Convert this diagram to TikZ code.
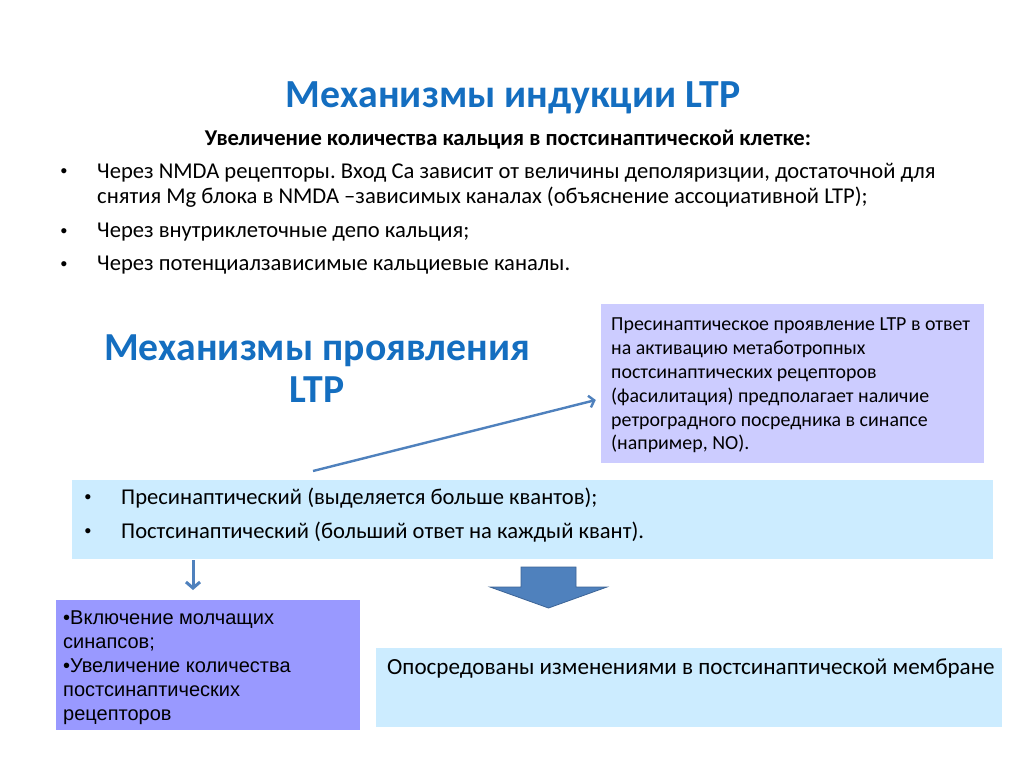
\documentclass[tikz,border=0pt]{standalone}
\usepackage{fontspec}
\setmainfont{Carlito}
\newfontfamily\arialFont{Liberation Sans}
\usetikzlibrary{positioning,arrows.meta}
\frenchspacing

\definecolor{titleBlue}{RGB}{20,110,192}
\definecolor{lightBlueFill}{RGB}{204,236,255}
\definecolor{lavenderFill}{RGB}{204,204,255}
\definecolor{purpleFill}{RGB}{153,153,255}
\definecolor{arrowBlue}{RGB}{79,129,189}
\definecolor{arrowEdge}{RGB}{60,100,150}

\newcommand\arrowColor{arrowBlue}
\newcommand\arrowLineWidth{2.4pt}
\newcommand\bodyFont{\fontsize{22.6}{25.5}\selectfont}
\newcommand\membraneFont{\fontsize{23.1}{26}\selectfont}
\newcommand\dotFont{\arialFont\fontsize{19}{20}\selectfont}
\newcommand\boxFont{\fontsize{19.9}{23.8}\selectfont}
\newcommand\purpleFont{\arialFont\fontsize{20}{24}\selectfont}
\newcommand\titleFont{\bfseries\fontsize{39.8}{44}\selectfont}
\newcommand\bigTitleFont{\bfseries\fontsize{39.7}{42}\selectfont}

\begin{document}
\begin{tikzpicture}[x=1pt, y=-1pt,
    bodytext/.style={font=\bodyFont, inner sep=0pt, anchor=west},
    bulletdot/.style={font=\dotFont, inner sep=0pt},
    colorbox/.style={shape=rectangle, inner sep=0pt, anchor=center},
    linkarrow/.style={draw=\arrowColor, line width=\arrowLineWidth, -{Straight Barb[length=5pt,width=12pt]}}
]

    \useasboundingbox (0,0) rectangle (1024,768);
    \fill[white] (0,0) rectangle (1024,768);

%Part One: induction
    \node [font=\titleFont, text=titleBlue] (inductionTitle) at (513,98) {Механизмы индукции LTP};
    \node [font=\bodyFont\bfseries] (calciumHead) at (508,140) {Увеличение количества кальция в постсинаптической клетке:};

    \node [bulletdot] (dotNmda) at (64,173) {•};
    \node [bodytext, anchor=north west, align=left] (itemNmda) at (97,163) {Через NMDA рецепторы. Вход Са зависит от величины деполяризции, достаточной для\\снятия Mg блока в NMDA –зависимых каналах (объяснение ассоциативной LTP);};
    \node [bulletdot] (dotDepot) at (64,233) {•};
    \node [bodytext] (itemDepot) at (97,232) {Через внутриклеточные депо кальция;};
    \node [bulletdot] (dotChannel) at (64,266) {•};
    \node [bodytext] (itemChannel) at (97,265) {Через потенциалзависимые кальциевые каналы.};

%Part Two: expression
    \node [font=\bigTitleFont, text=titleBlue, align=center] (expressionTitle) at (317,369) {Механизмы проявления\\LTP};

    \node [colorbox, fill=lavenderFill, minimum width=383, minimum height=159] (metaBox) at (792.5,383.5) {};
    \node [font=\boxFont, inner sep=0pt, anchor=north west, align=left] (metaText) at (611,318) {Пресинаптическое проявление LTP в ответ\\на активацию метаботропных\\постсинаптических рецепторов\\(фасилитация) предполагает наличие\\ретроградного посредника в синапсе\\(например, NO).};

    \node [colorbox, fill=lightBlueFill, minimum width=921, minimum height=79] (kindBox) at (532.5,519.5) {};
    \node [bulletdot] (dotPre) at (88,499) {•};
    \node [bodytext] (itemPre) at (121,498) {Пресинаптический (выделяется больше квантов);};
    \node [bulletdot] (dotPost) at (88,533) {•};
    \node [bodytext] (itemPost) at (121,532) {Постсинаптический (больший ответ на каждый квант).};

    \node [colorbox, fill=purpleFill, minimum width=304, minimum height=130] (silentBox) at (208,665) {};
    \node [font=\purpleFont, inner sep=0pt, anchor=north west, align=left] (silentText) at (63,611) {•Включение молчащих\\синапсов;\\•Увеличение количества\\постсинаптических\\рецепторов};

    \node [colorbox, fill=lightBlueFill, minimum width=626, minimum height=79] (membraneBox) at (689,687.5) {};
    \node [bodytext, font=\membraneFont] (membraneText) at (387,669) {Опосредованы изменениями в постсинаптической мембране};

%Part Three: arrows
    \coordinate (metaArrowStart) at (313,471);
    \coordinate (metaArrowEnd) at (metaBox.west |- 0,400);
    \draw [linkarrow] (metaArrowStart) -- ([xshift=-5pt]metaArrowEnd);

    \coordinate (silentArrowStart) at (193,560);
    \coordinate (silentArrowEnd) at (193,590);
    \draw [linkarrow, line width=3pt, -{Straight Barb[length=6pt,width=14pt]}] (silentArrowStart) -- (silentArrowEnd);

    \filldraw [fill=arrowBlue, draw=arrowEdge, line width=0.8pt] (521,567) -- (576,567) -- (576,587) -- (607,587) -- (548.5,608) -- (490,587) -- (521,587) -- cycle;

\end{tikzpicture}
\end{document}
